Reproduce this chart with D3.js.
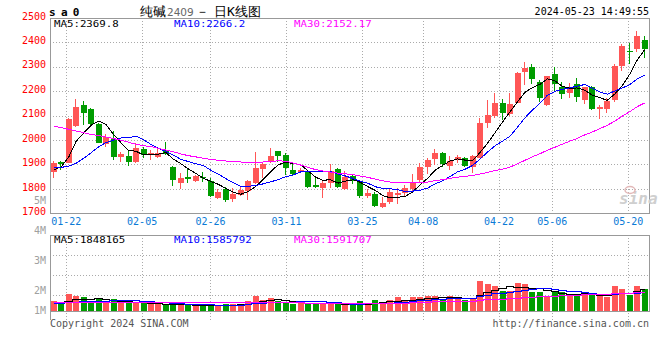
<!DOCTYPE html>
<html><head><meta charset="utf-8">
<script src="https://cdn.jsdelivr.net/npm/d3@7/dist/d3.min.js"></script>
<style>
html,body{margin:0;padding:0;background:#fff;}
svg{display:block;}
text{font-family:"DejaVu Sans Mono","Liberation Mono",monospace;}
</style></head><body>
<svg id="c" width="660" height="360"></svg>
<script>
// ---------- data ----------
const dates = ["2024-01-18","2024-01-19","2024-01-22","2024-01-23","2024-01-24","2024-01-25","2024-01-26","2024-01-29","2024-01-30","2024-01-31",
"2024-02-01","2024-02-02","2024-02-05","2024-02-06","2024-02-07","2024-02-08","2024-02-19","2024-02-20","2024-02-21","2024-02-22",
"2024-02-23","2024-02-26","2024-02-27","2024-02-28","2024-02-29","2024-03-01","2024-03-04","2024-03-05","2024-03-06","2024-03-07",
"2024-03-08","2024-03-11","2024-03-12","2024-03-13","2024-03-14","2024-03-15","2024-03-18","2024-03-19","2024-03-20","2024-03-21",
"2024-03-22","2024-03-25","2024-03-26","2024-03-27","2024-03-28","2024-03-29","2024-04-01","2024-04-02","2024-04-03","2024-04-08",
"2024-04-09","2024-04-10","2024-04-11","2024-04-12","2024-04-15","2024-04-16","2024-04-17","2024-04-18","2024-04-19","2024-04-22",
"2024-04-23","2024-04-24","2024-04-25","2024-04-26","2024-04-29","2024-04-30","2024-05-06","2024-05-07","2024-05-08","2024-05-09",
"2024-05-10","2024-05-13","2024-05-14","2024-05-15","2024-05-16","2024-05-17","2024-05-20","2024-05-21","2024-05-22","2024-05-23"];
const open = [1871,1909,1906,2057,2143,2127,2066,1984,2003,1931, 1935,1908,1963,1938,1932,1957,1891,1826,1850,1834,
 1850,1832,1764,1800,1757,1775,1791,1823,1883,1914, 1955,1939,1877,1871,1871,1817,1805,1823,1880,1800,
 1854,1827,1772,1779,1727,1748,1775,1782,1800,1836, 1891,1922,1948,1895,1918,1928,1888,1928,2071,2100,
 2150,2105,2153,2280,2298,2239,2143,2270,2216,2191, 2229,2164,2216,2126,2128,2165,2304,2366,2373,2410];
const high = [1916,1916,2090,2168,2160,2132,2068,2023,2038,1952, 1959,1987,1973,1960,1962,1993,1893,1864,1884,1857,
 1871,1846,1798,1808,1802,1809,1837,1952,1907,1969, 1957,1948,1900,1884,1877,1846,1837,1900,1884,1873,
 1861,1837,1800,1789,1768,1802,1802,1815,1861,1905, 1925,1963,1952,1935,1939,1932,1937,2089,2164,2191,
 2170,2191,2280,2318,2311,2246,2264,2298,2237,2232, 2252,2219,2221,2144,2171,2310,2393,2397,2447,2427];
const low = [1843,1877,1904,2052,2062,2062,1987,1973,1918,1909, 1894,1905,1925,1918,1925,1939,1813,1800,1823,1830,
 1830,1768,1759,1748,1748,1772,1755,1820,1843,1905, 1912,1857,1853,1864,1802,1802,1764,1805,1802,1796,
 1819,1761,1762,1727,1723,1737,1737,1768,1789,1823, 1861,1898,1891,1877,1905,1891,1866,1925,2051,2090,
 2082,2100,2150,2225,2228,2157,2140,2198,2168,2172, 2154,2148,2123,2088,2109,2154,2284,2312,2360,2336];
const close = [1905,1903,2087,2135,2112,2066,1989,2014,1932,1943, 1912,1969,1939,1945,1946,1943,1836,1845,1839,1854,
 1843,1772,1786,1755,1779,1796,1832,1887,1901,1936, 1935,1887,1861,1877,1809,1806,1823,1873,1806,1850,
 1834,1772,1782,1731,1744,1786,1785,1802,1823,1891, 1918,1948,1901,1914,1932,1894,1935,2071,2102,2150,
 2109,2148,2273,2296,2249,2174,2262,2228,2187,2212, 2176,2216,2126,2137,2158,2303,2386,2362,2426,2372];
const volume = [820000,580000,1400000,1260000,1180000,720000,990000,820000,990000,720000,
 720000,720000,720000,580000,580000,550000,550000,580000,580000,490000,
 410000,580000,490000,630000,630000,490000,820000,1240000,900000,1100000,
 820000,770000,630000,720000,580000,580000,720000,720000,580000,490000,
 490000,820000,720000,900000,720000,900000,1180000,820000,1180000,1180000,
 1240000,1240000,1040000,1240000,1040000,900000,1113290,2550000,2330000,2140000,
 1670000,1730000,2400000,2280000,1590000,1590000,1180000,1670000,1590000,1360000,
 1450000,1350000,1350000,1270000,1197095,2100000,1850000,1350000,2100000,1840825];
// moving-average values before enough bars exist
const ma5Early = [1878,1890,1930,1995];
const ma10Early = [1887,1888,1893,1905,1925,1948,1972,1990,1999];
const ma30Early = [2056,2051,2044,2037,2030,2023,2018,2012,2006,1999,1991,1982,1977,1973,1966,1959,1952,1943,1936,1931,1925,1921,1917,1914,1912,1910,1909,1909,1910];
const vma5Early = [650000,640000,850000,990000];
const vma10Early = [680000,640000,760000,800000,850000,850000,870000,880000,900000];
const vma30Early = [800000,800000,795000,790000,790000,785000,780000,780000,775000,770000,770000,765000,760000,760000,755000,750000,750000,750000,745000,745000,745000,745000,745000,750000,750000,750000,755000,755000,760000];

const priceTicks = [2500,2400,2300,2200,2100,2000,1900,1800,1700];
const dateTicks = ["2024-01-22","2024-02-05","2024-02-26","2024-03-11","2024-03-25","2024-04-08","2024-04-22","2024-05-06","2024-05-20"];
const volTicks = [5,4,3,2,1];
const symbol = "sa0";
const titleParts = ["纯碱","2409","－","日K线图"];
const stamp = "2024-05-23 14:49:55";
const maColors = ["#000000","#0000ff","#ff00ff"];
const UP = "#ff5656", DOWN = "#009c00";

// ---------- helpers ----------
function movingAvg(vals, n, early){
  return vals.map((v,i)=> i < early.length ? early[i] : d3.mean(vals.slice(i-n+1,i+1)));
}
const ma5 = movingAvg(close,5,ma5Early), ma10 = movingAvg(close,10,ma10Early), ma30 = movingAvg(close,30,ma30Early);
const vma5 = movingAvg(volume,5,vma5Early), vma10 = movingAvg(volume,10,vma10Early), vma30 = movingAvg(volume,30,vma30Early);

const svg = d3.select("#c");
const L = 50, R = 649, PT = 18, PB = 213, VT = 235, VB = 311;
const p = v => Math.round(v) + 0.5;

const x = d3.scaleBand().domain(dates).range([50, 648.4]);
const cx = d => x(d) + x.bandwidth()/2;
const gx = d3.scaleLinear().domain([0, dates.length-1]).range([50.5, 650.5]);
const y = d3.scaleLinear().domain([1700,2500]).range([213.3, 17.9]);
const vy = d3.scaleLinear().domain([0,1e6]).range([VB, VB-11.8]);
const vLab = d3.scaleLinear().domain([2,5]).range([290,200]);
const vGrid = d3.scaleLinear().domain([0,4]).range([VT, 315]);

const grid = svg.append("g").attr("stroke","#aaa").attr("stroke-dasharray","1,2").attr("shape-rendering","crispEdges");
// horizontal price grid
grid.selectAll(".hp").data(priceTicks.filter(v=>v!==2500 && v!==1700)).join("line")
  .attr("x1",L).attr("x2",R).attr("y1",d=>p(y(d))).attr("y2",d=>p(y(d)));
// volume horizontal grid
grid.selectAll(".hv").data([1,2,3]).join("line").attr("class","hv")
  .attr("x1",L).attr("x2",R).attr("y1",d=>p(vGrid(d))).attr("y2",d=>p(vGrid(d)));
// vertical grids
const vIdx = dateTicks.map(d=>dates.indexOf(d));
grid.selectAll(".vp").data(vIdx).join("line").attr("class","vp")
  .attr("x1",d=>p(gx(d))).attr("x2",d=>p(gx(d))).attr("y1",PT).attr("y2",PB);
grid.selectAll(".vv").data(vIdx).join("line").attr("class","vv")
  .attr("x1",d=>p(gx(d))).attr("x2",d=>p(gx(d))).attr("y1",VT).attr("y2",321);

// frames
const fr = svg.append("g").attr("stroke","#999").attr("shape-rendering","crispEdges");
fr.append("line").attr("x1",L).attr("x2",R+1).attr("y1",PT+0.5).attr("y2",PT+0.5);
fr.append("line").attr("x1",L).attr("x2",R+1).attr("y1",PB+0.5).attr("y2",PB+0.5);
fr.append("line").attr("x1",L+0.5).attr("x2",L+0.5).attr("y1",PT).attr("y2",PB+1);
fr.append("line").attr("x1",R+0.5).attr("x2",R+0.5).attr("y1",PT).attr("y2",PB+1);
fr.append("line").attr("x1",L).attr("x2",R+1).attr("y1",VT+0.5).attr("y2",VT+0.5);
fr.append("line").attr("x1",L).attr("x2",R+1).attr("y1",VB+0.5).attr("y2",VB+0.5);
fr.append("line").attr("x1",L+0.5).attr("x2",L+0.5).attr("y1",VT).attr("y2",320);
fr.append("line").attr("x1",R+0.5).attr("x2",R+0.5).attr("y1",VT).attr("y2",VB+1);

// watermark
const wm = svg.append("g");
wm.append("text").attr("x",619).attr("y",204).attr("font-family","Verdana, 'DejaVu Sans', sans-serif")
  .attr("font-size",16).attr("font-style","italic").attr("font-weight","bold").attr("fill","#cfcfcf").text("sina");
wm.append("ellipse").attr("cx",630).attr("cy",190).attr("rx",5).attr("ry",3.5).attr("fill","none").attr("stroke","#e2b8b8").attr("stroke-width",1.5);

// price labels
svg.append("g").selectAll("text").data(priceTicks).join("text")
  .attr("x",46).attr("y",d=>y(d)+1.7).attr("text-anchor","end").attr("font-size",10).attr("fill","#f00").text(d=>d);
// volume labels
svg.append("g").selectAll("text").data(volTicks).join("text")
  .attr("x",46).attr("y",d=>Math.min(vLab(d),310.5)+3.7).attr("text-anchor","end").attr("font-size",10).attr("fill","#a0a0a0").text(d=>d+"M");
// date labels
svg.append("g").selectAll("text").data(vIdx).join("text")
  .attr("x",d=>gx(d)+0.5).attr("y",225.3).attr("text-anchor","middle").attr("font-size",10).attr("fill","#0a7ad6").text(d=>dates[d].slice(5));

// candles
const idx = d3.range(dates.length);
const col = i => close[i] >= open[i] ? UP : DOWN;
const cg = svg.append("g").attr("shape-rendering","crispEdges");
cg.selectAll(".w").data(idx).join("rect")
  .attr("x",i=>Math.round(cx(dates[i])-3)+2).attr("width",1)
  .attr("y",i=>Math.round(y(high[i]))).attr("height",i=>Math.max(1,Math.round(y(low[i]))-Math.round(y(high[i]))))
  .attr("fill",col);
cg.selectAll(".b").data(idx).join("rect")
  .attr("x",i=>Math.round(cx(dates[i])-3)).attr("width",6)
  .attr("y",i=>Math.round(y(Math.max(open[i],close[i]))))
  .attr("height",i=>Math.max(1,Math.round(y(Math.min(open[i],close[i])))-Math.round(y(Math.max(open[i],close[i])))))
  .attr("fill",col);

// MA lines
const line = d3.line().x((v,i)=>cx(dates[i])).y(v=>y(v));
[ma5,ma10,ma30].forEach((s,j)=>{
  svg.append("path").attr("d",line(s)).attr("fill","none").attr("stroke",maColors[j]).attr("stroke-width",1).attr("shape-rendering","crispEdges");
});

// volume bars
svg.append("g").attr("shape-rendering","crispEdges").selectAll("rect").data(idx).join("rect")
  .attr("x",i=>Math.round(cx(dates[i])-3)).attr("width",6)
  .attr("y",i=>Math.round(vy(volume[i]))).attr("height",i=>VB-Math.round(vy(volume[i])))
  .attr("fill",col);
const vline = d3.line().curve(d3.curveStep).x((v,i)=>cx(dates[i])).y(v=>p(vy(v)));
[vma5,vma10,vma30].forEach((s,j)=>{
  svg.append("path").attr("d",vline(s)).attr("fill","none").attr("stroke",maColors[j]).attr("stroke-width",1).attr("shape-rendering","crispEdges");
});

// legends
const f1 = d3.format(".1f"), f2 = d3.format(".2f"), fi = v=>String(Math.round(v));
const last = a => a[a.length-1];
const leg = (yy, items) => {
  svg.append("g").selectAll("text").data(items).join("text")
    .attr("x",(d,i)=>54+120*i).attr("y",yy).attr("font-size",9.5).attr("fill",(d,i)=>maColors[i])
    .attr("textLength",d=>d.length*6.47).attr("lengthAdjust","spacingAndGlyphs").text(d=>d);
};
leg(27, ["MA5:"+f1(last(ma5)), "MA10:"+f1(last(ma10)), "MA30:"+f2(last(ma30))]);
leg(243, ["MA5:"+fi(last(vma5)), "MA10:"+fi(last(vma10)), "MA30:"+fi(last(vma30))]);

// header
svg.append("text").attr("x",49).attr("y",15.5).attr("font-size",11).attr("font-weight","bold").attr("letter-spacing",5.3).attr("fill","#000").text(symbol);
const t = svg.append("text").attr("y",15.5).attr("font-family","'Noto Sans CJK SC', sans-serif").attr("font-size",13).attr("fill","#000");
t.append("tspan").attr("x",140).text(titleParts[0]);
t.append("tspan").attr("x",167).attr("font-family","'DejaVu Sans', sans-serif").attr("font-size",10.5).attr("fill","#666").text(titleParts[1]);
t.append("tspan").attr("x",196).text(titleParts[2]);
t.append("tspan").attr("x",214).text(titleParts[3]);
svg.append("text").attr("x",649).attr("y",15.3).attr("text-anchor","end").attr("font-size",10).attr("fill","#000").text(stamp);

// footer
svg.append("text").attr("x",50).attr("y",327).attr("font-size",10).attr("fill","#555").text("Copyright 2024 SINA.COM");
svg.append("text").attr("x",649).attr("y",327).attr("text-anchor","end").attr("font-size",10).attr("fill","#555").text("http://finance.sina.com.cn");
</script>
</body></html>
